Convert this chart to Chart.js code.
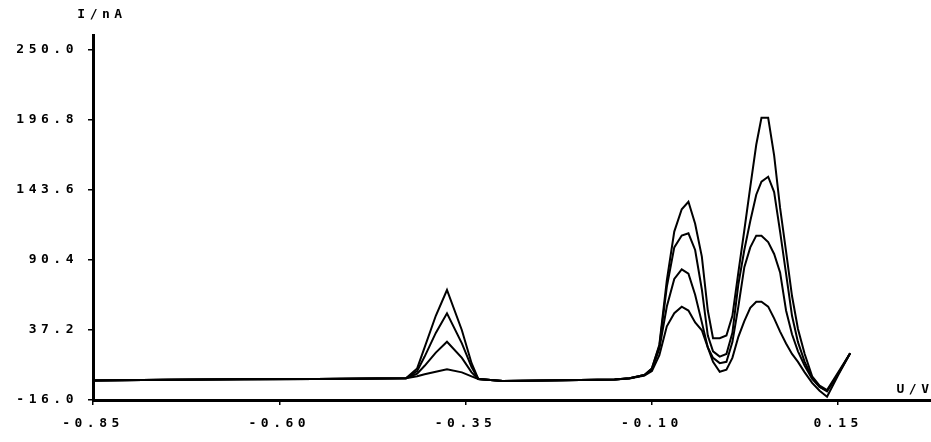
<!DOCTYPE html>
<html>
<head>
<meta charset="utf-8">
<script src="https://cdn.jsdelivr.net/npm/chart.js@4.4.1/dist/chart.umd.min.js"></script>
<style>
  html, body { margin: 0; padding: 0; background: #fff; }
  #wrap { width: 931px; height: 442px; position: relative; }
</style>
</head>
<body>
<div id="wrap"><canvas id="c"></canvas></div>
<script>
// Potential (V) sample points shared by all four scans
const voltage = [-0.85, -0.75, -0.65, -0.55, -0.47, -0.43, -0.415, -0.405, -0.39, -0.375, -0.355, -0.342, -0.333,
  -0.30, -0.22, -0.15, -0.13, -0.11, -0.10, -0.09, -0.08, -0.07, -0.06, -0.051, -0.042, -0.033, -0.025, -0.018,
  -0.009, 0.0, 0.008, 0.016, 0.024, 0.032, 0.04, 0.047, 0.056, 0.064, 0.072, 0.08, 0.088, 0.096, 0.105, 0.115,
  0.125, 0.135, 0.15, 0.166];

// Current (nA) for each scan
const scan1 = [-1.2, -0.6, -0.3, 0.0, 0.3, 0.5, 8, 24, 48, 67.6, 37, 12, 0,
  -1.5, -1.0, -0.5, 0.5, 3, 8, 26, 75, 112, 129, 134.7, 118, 93, 52, 31,
  31, 33, 48, 81, 113, 146, 178, 198.5, 198.5, 170, 130, 97, 63, 38, 19, 2,
  -5, -8.5, 5, 19.5];
const scan2 = [-1.2, -0.6, -0.3, 0.0, 0.3, 0.5, 6, 17, 35, 49.9, 27, 9, 0,
  -1.5, -1.0, -0.5, 0.5, 3, 8, 25, 70, 100, 109, 110.7, 98, 68, 33, 21,
  17, 19, 35, 72, 98, 120, 140, 150, 153.7, 142, 112, 80, 48, 28, 13, 1,
  -6, -9.5, 4, 19.5];
const scan3 = [-1.2, -0.6, -0.3, 0.0, 0.3, 0.5, 4, 10, 20, 28.3, 16, 5, 0,
  -1.5, -1.0, -0.5, 0.5, 3, 7, 23, 55, 76, 83.3, 80, 64, 43, 24, 16,
  12, 13, 28, 55, 85, 100, 108.9, 108.9, 104, 95, 81, 52, 34, 21, 10, 0,
  -6, -9, 4, 19.5];
const scan4 = [-1.2, -0.6, -0.3, 0.0, 0.3, 0.5, 2, 3.5, 5.5, 7.3, 5, 2, 0,
  -1.5, -1.0, -0.5, 0.3, 2.5, 6, 18, 40, 50, 54.9, 52, 43, 37, 24, 13,
  5.5, 7, 16, 32, 44, 54, 58.7, 58.7, 55, 46, 36, 27, 19, 13, 5, -3,
  -9, -13.5, 3, 19.5];

// Axis ticks
const voltageTicks = [-0.85, -0.60, -0.35, -0.10, 0.15];
const voltageTickLabels = ['-0.85', '-0.60', '-0.35', '-0.10', '0.15'];
const currentTicks = [-16.0, 37.2, 90.4, 143.6, 196.8, 250.0];
const currentTickLabels = ['-16.0', '37.2', '90.4', '143.6', '196.8', '250.0'];

const FONT = { family: '"DejaVu Sans Mono", monospace', size: 13, weight: 'bold' };
const SPACING = 4.5;

function series(ys) {
  return {
    data: voltage.map((v, i) => ({ x: v, y: ys[i] })),
    borderColor: '#000',
    borderWidth: 2,
    pointRadius: 0,
    tension: 0,
    fill: false
  };
}

// Wide, blocky lettering for every label drawn on the canvas
const spacedText = {
  id: 'spacedText',
  beforeDraw(chart) { chart.ctx.letterSpacing = SPACING + 'px'; },
  afterDraw(chart) {
    const ctx = chart.ctx;
    const a = chart.chartArea;
    ctx.save();
    ctx.fillStyle = '#000';
    ctx.font = 'bold 13px "DejaVu Sans Mono", monospace';
    ctx.textBaseline = 'middle';
    ctx.textAlign = 'center';
    ctx.fillText('I/nA', a.left + 9, a.top - 20);
    ctx.textAlign = 'right';
    ctx.fillText('U/V', a.right + SPACING - 2, a.bottom - 10);
    ctx.restore();
    ctx.letterSpacing = '0px';
  }
};

new Chart(document.getElementById('c'), {
  type: 'line',
  data: { datasets: [series(scan1), series(scan2), series(scan3), series(scan4)] },
  options: {
    responsive: true,
    maintainAspectRatio: false,
    animation: false,
    layout: { padding: { top: 35, right: 0, left: 0, bottom: 0 } },
    plugins: { legend: { display: false }, tooltip: { enabled: false } },
    scales: {
      x: {
        type: 'linear',
        min: -0.85,
        max: 0.2745,
        afterBuildTicks(axis) { axis.ticks = voltageTicks.map(v => ({ value: v })); },
        afterFit(axis) { axis.height = 42; },
        ticks: {
          color: '#000',
          font: FONT,
          padding: 11,
          maxRotation: 0,
          autoSkip: false,
          callback: (v, i) => voltageTickLabels[i]
        },
        grid: { drawOnChartArea: false, drawTicks: true, tickLength: 5, color: '#000', lineWidth: 1.5 },
        border: { display: true, color: '#000', width: 3 }
      },
      y: {
        type: 'linear',
        min: -16,
        max: 261.4,
        afterBuildTicks(axis) { axis.ticks = currentTicks.map(v => ({ value: v })); },
        afterFit(axis) { axis.width = 93; },
        ticks: {
          color: '#000',
          font: FONT,
          padding: 10,
          autoSkip: false,
          callback: (v, i) => currentTickLabels[i]
        },
        grid: { drawOnChartArea: false, drawTicks: true, tickLength: 5, color: '#000', lineWidth: 1.5 },
        border: { display: true, color: '#000', width: 3 }
      }
    }
  },
  plugins: [spacedText]
});
</script>
</body>
</html>
